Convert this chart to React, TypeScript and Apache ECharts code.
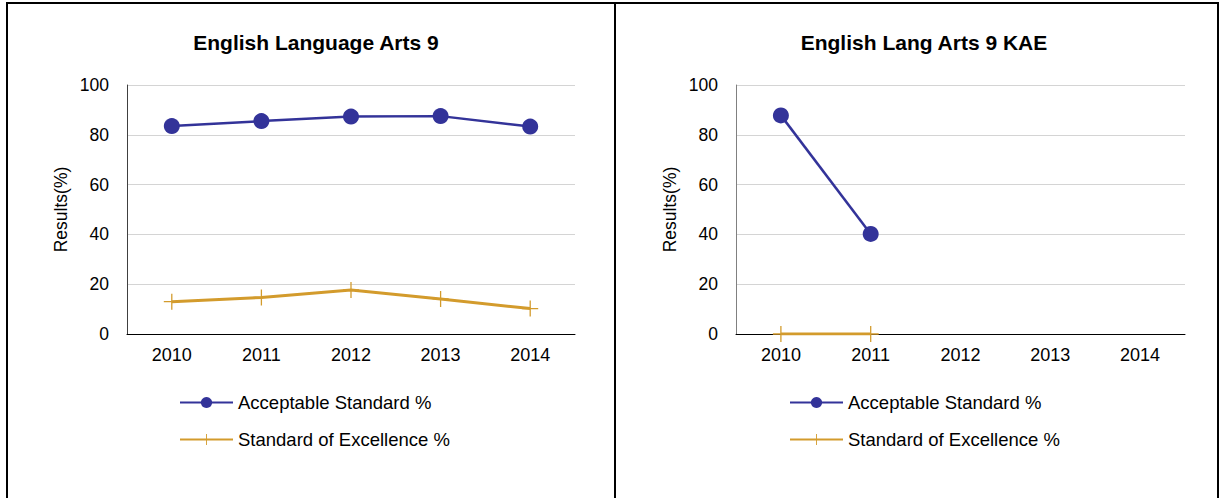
import React, { useEffect, useRef } from "react";
import * as echarts from "echarts";

const years = ["2010", "2011", "2012", "2013", "2014"];
const leftTitle = "English Language Arts 9";
const rightTitle = "English Lang Arts 9 KAE";
const seriesNames = ["Acceptable Standard %", "Standard of Excellence %"];
const leftAcceptable = [83.5, 85.5, 87.3, 87.5, 83.3];
const leftExcellence = [13.0, 14.7, 17.7, 14.1, 10.2];
const rightAcceptable: (number | null)[] = [87.8, 40.2, null, null, null];
const rightExcellence: (number | null)[] = [0, 0, null, null, null];
const yTicks = [0, 20, 40, 60, 80, 100];

const BLUE = "#333399";
const GOLD = "#D39B2C";
const FONT = "'Liberation Sans', Arial, sans-serif";
const PLUS =
  "path://M0.46,0 L0.54,0 L0.54,0.46 L1,0.46 L1,0.54 L0.54,0.54 L0.54,1 L0.46,1 L0.46,0.54 L0,0.54 L0,0.46 L0.46,0.46 Z";

export default function App() {
  const ref = useRef<HTMLDivElement>(null);
  useEffect(() => {
    if (!ref.current) return;
    const chart = echarts.init(ref.current, null, { renderer: "svg" });
    const grids = [
      { left: 127, top: 85, width: 448, height: 249 },
      { left: 736, top: 85, width: 449, height: 249 },
    ];
    const xAxis = grids.map((_, i) => ({
      type: "category",
      gridIndex: i,
      data: years,
      boundaryGap: true,
      axisLine: { lineStyle: { color: "#000", width: 1 } },
      axisTick: { show: false },
      axisLabel: { color: "#000", fontSize: 18, fontFamily: FONT, margin: 12 },
    }));
    const yAxis = grids.map((_, i) => ({
      type: "value",
      gridIndex: i,
      min: yTicks[0],
      max: yTicks[yTicks.length - 1],
      interval: 20,
      name: "Results(%)",
      nameLocation: "middle",
      nameGap: 57,
      nameTextStyle: { color: "#000", fontSize: 17.5, fontFamily: FONT },
      axisLine: { show: true, lineStyle: { color: i === 0 ? "#404040" : "#808080", width: 1 } },
      axisTick: { show: false },
      axisLabel: { color: "#000", fontSize: 17.5, fontFamily: FONT, margin: 18 },
      splitLine: { lineStyle: { color: "#d4d4d4", width: 1 } },
    }));
    const mk = (idx: number, acc: (number | null)[], exc: (number | null)[]) => [
      {
        name: seriesNames[0],
        type: "line",
        xAxisIndex: idx,
        yAxisIndex: idx,
        data: acc,
        symbol: "circle",
        symbolSize: 16,
        lineStyle: { color: BLUE, width: 2.5 },
        itemStyle: { color: BLUE },
        z: 3,
      },
      {
        name: seriesNames[1],
        type: "line",
        xAxisIndex: idx,
        yAxisIndex: idx,
        data: exc,
        symbol: PLUS,
        symbolSize: 16,
        lineStyle: { color: GOLD, width: 3 },
        itemStyle: { color: GOLD },
        z: 2,
      },
    ];
    const legendBase = {
      orient: "vertical",
      top: 388,
      itemWidth: 53,
      itemHeight: 14,
      itemGap: 18,
      textStyle: { color: "#000", fontSize: 18.5, fontFamily: FONT },
      data: seriesNames,
      selectedMode: false,
    };
    const border = (x1: number, y1: number, x2: number, y2: number) => ({
      type: "line",
      shape: { x1, y1, x2, y2 },
      style: { stroke: "#000", lineWidth: 2 },
      silent: true,
    });
    chart.setOption({
      animation: false,
      backgroundColor: "#fff",
      title: [
        {
          text: leftTitle,
          left: 311,
          top: 27,
          textAlign: "center",
          textStyle: { color: "#000", fontSize: 21, fontWeight: "bold", fontFamily: FONT },
        },
        {
          text: rightTitle,
          left: 919,
          top: 27,
          textAlign: "center",
          textStyle: { color: "#000", fontSize: 21, fontWeight: "bold", fontFamily: FONT },
        },
      ],
      grid: grids,
      xAxis,
      yAxis,
      legend: [
        { ...legendBase, left: 174, seriesIndex: [0, 1] },
        { ...legendBase, left: 784, seriesIndex: [2, 3] },
      ],
      series: [...mk(0, leftAcceptable, leftExcellence), ...mk(1, rightAcceptable, rightExcellence)],
      graphic: [
        border(7, 3, 1218, 3),
        border(7, 2, 7, 498),
        border(615, 2, 615, 498),
        border(1218, 2, 1218, 498),
      ],
    });
    return () => chart.dispose();
  }, []);
  return (
    <div
      ref={ref}
      style={{ position: "absolute", left: 0, top: 0, width: 1219, height: 498 }}
    />
  );
}
